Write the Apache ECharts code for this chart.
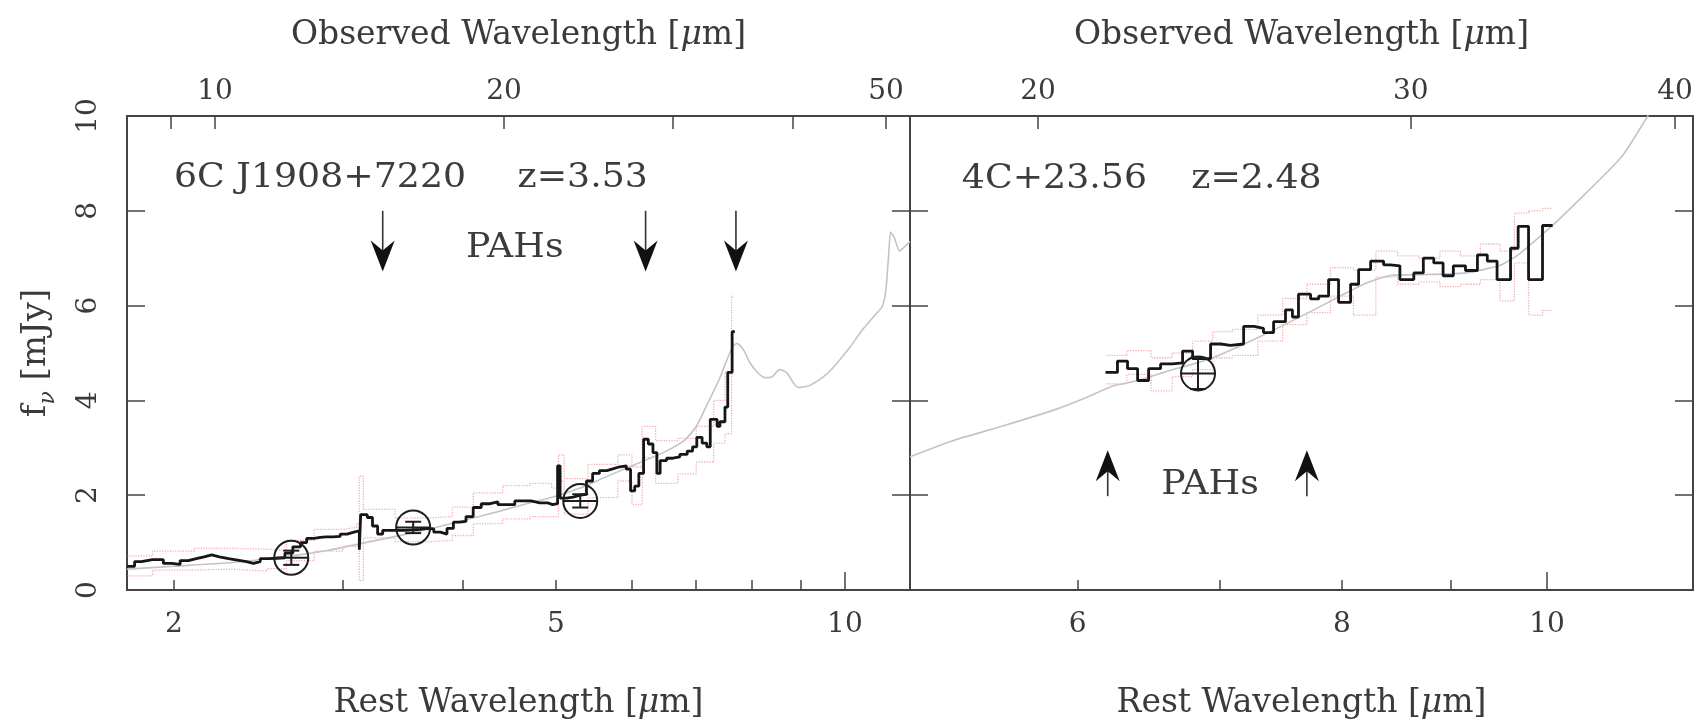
<!DOCTYPE html>
<html><head><meta charset="utf-8">
<script src="https://cdn.jsdelivr.net/npm/echarts@6/dist/echarts.min.js"></script>
<style>html,body{margin:0;padding:0;background:#fff}#c{width:1702px;height:725px}</style>
</head><body><div id="c"></div>
<script>
// ---------------- data ----------------
const zLeft = 3.53, zRight = 2.48;
const restRangeLeft = [1.787, 11.69];
const restRangeRight = [5.0, 11.72];

const leftRestTicks = [2, 3, 4, 5, 6, 7, 8, 9];
const leftRestMajorTicks = [10];
const leftRestLabels = [2, 5, 10];
const leftObsTicks = [9, 10, 20, 30, 40, 50];
const leftObsLabels = [10, 20, 50];
const rightRestTicks = [6, 7, 8, 9];
const rightRestMajorTicks = [10];
const rightRestLabels = [6, 8, 10];
const rightObsTicks = [20, 30, 40];
const rightObsLabels = [20, 30, 40];

// 6C J1908+7220 : IRS spectrum (rest um, mJy)
const leftSpectrum = [[1.787,0.50],[1.82,0.60],[1.85,0.64],[1.90,0.64],[1.95,0.56],[1.99,0.54],[2.03,0.62],[2.07,0.66],[2.11,0.70],[2.15,0.74],[2.19,0.70],[2.23,0.66],[2.28,0.63],[2.33,0.60],[2.38,0.56],[2.42,0.60],[2.46,0.66],[2.51,0.67],[2.56,0.68],[2.61,0.78],[2.66,0.91],[2.71,1.00],[2.75,1.09],[2.80,1.11],[2.84,1.12],[2.88,1.12],[2.93,1.13],[2.98,1.18],[3.03,1.22],[3.08,1.25],[3.12,0.85],[3.13,1.59],[3.18,1.53],[3.22,1.35],[3.26,1.18],[3.30,1.26],[3.35,1.26],[3.41,1.26],[3.48,1.27],[3.55,1.28],[3.61,1.30],[3.67,1.29],[3.73,1.22],[3.79,1.18],[3.85,1.30],[3.91,1.43],[3.97,1.45],[4.03,1.55],[4.10,1.74],[4.18,1.82],[4.27,1.86],[4.35,1.80],[4.45,1.80],[4.53,1.88],[4.62,1.88],[4.71,1.84],[4.81,1.84],[4.90,1.80],[4.96,1.82],[5.02,2.62],[5.05,1.94],[5.13,1.96],[5.21,2.00],[5.30,2.02],[5.38,2.30],[5.46,2.46],[5.55,2.52],[5.65,2.56],[5.74,2.60],[5.83,2.62],[5.92,2.55],[5.98,2.09],[6.04,2.19],[6.10,2.46],[6.17,3.18],[6.24,3.08],[6.31,2.90],[6.37,2.46],[6.42,2.73],[6.52,2.78],[6.62,2.81],[6.73,2.86],[6.85,2.93],[6.94,3.02],[7.01,3.22],[7.10,3.10],[7.18,3.02],[7.24,3.60],[7.36,3.45],[7.41,3.55],[7.50,3.86],[7.55,4.59],[7.63,5.45],[7.68,5.45]];
const leftErrHigh = [[1.79,0.72],[1.9,0.82],[2.1,0.88],[2.3,0.86],[2.5,0.84],[2.62,1.05],[2.8,1.28],[3.0,1.32],[3.1,1.40],[3.12,2.40],[3.15,1.70],[3.4,1.52],[3.7,1.55],[3.9,1.75],[4.1,2.05],[4.4,2.20],[4.7,2.25],[4.95,2.15],[5.03,2.85],[5.1,2.35],[5.4,2.65],[5.8,2.85],[6.0,2.60],[6.15,3.45],[6.35,3.15],[6.7,3.20],[7.0,3.45],[7.3,4.0],[7.5,4.6],[7.62,6.2],[7.66,6.2]];
const leftErrLow = [[1.79,0.30],[1.9,0.42],[2.1,0.44],[2.3,0.40],[2.5,0.45],[2.62,0.62],[2.8,0.82],[3.0,0.92],[3.1,0.95],[3.12,0.20],[3.15,1.10],[3.4,1.02],[3.7,1.05],[3.9,1.15],[4.1,1.40],[4.4,1.50],[4.7,1.55],[4.95,1.55],[5.03,2.30],[5.1,1.60],[5.4,1.95],[5.8,2.30],[6.0,1.80],[6.15,2.80],[6.35,2.25],[6.7,2.45],[7.0,2.70],[7.3,3.10],[7.5,3.30],[7.62,4.8],[7.66,4.8]];
const leftTemplate = [[1.787,0.44],[2.0,0.50],[2.3,0.58],[2.6,0.70],[2.9,0.84],[3.2,1.02],[3.5,1.18],[3.8,1.35],[4.1,1.52],[4.4,1.68],[4.7,1.84],[5.0,1.98],[5.3,2.15],[5.6,2.36],[5.9,2.56],[6.2,2.74],[6.5,2.92],[6.8,3.15],[7.0,3.45],[7.2,3.95],[7.4,4.45],[7.55,4.9],[7.65,5.15],[7.72,5.2],[7.85,5.05],[7.96,4.8],[8.1,4.6],[8.25,4.48],[8.4,4.5],[8.55,4.65],[8.7,4.58],[8.85,4.35],[8.95,4.27],[9.2,4.32],[9.5,4.5],[9.72,4.69],[10.1,5.1],[10.44,5.5],[10.75,5.8],[10.93,5.97],[11.03,6.3],[11.10,7.0],[11.16,7.55],[11.25,7.45],[11.4,7.15],[11.55,7.25],[11.69,7.35]];
const leftPhotometry = [[2.65,0.68,0.15],[3.55,1.32,0.12],[5.30,1.88,0.14]];
const leftPAH = [3.3, 6.2, 7.7];
const leftArrowSpan = [8.0, 6.72];
const leftNotes = [
  {text: '6C J1908+7220', rest: 2.0, flux: 8.68, align: 'left'},
  {text: 'z=3.53', rest: 4.56, flux: 8.68, align: 'left'},
  {text: 'PAHs', rest: 4.53, flux: 7.2, align: 'center'}
];

// 4C+23.56
const rightSpectrum = [[6.185,4.59],[6.266,4.83],[6.335,4.67],[6.405,4.42],[6.482,4.67],[6.567,4.77],[6.653,4.79],[6.726,5.04],[6.80,4.88],[6.934,5.19],[7.01,5.16],[7.086,5.19],[7.188,5.56],[7.27,5.52],[7.345,5.43],[7.426,5.66],[7.523,5.91],[7.58,5.76],[7.63,6.24],[7.731,6.14],[7.80,6.20],[7.884,6.55],[7.970,6.07],[8.075,6.45],[8.146,6.76],[8.253,6.94],[8.370,6.86],[8.43,6.84],[8.52,6.55],[8.65,6.69],[8.74,7.00],[8.84,6.90],[8.93,6.63],[9.03,6.84],[9.15,6.74],[9.27,7.07],[9.37,6.94],[9.47,6.55],[9.61,7.21],[9.69,7.67],[9.80,6.55],[9.95,7.69],[10.06,7.69]];
const rightErrHigh = [[6.19,4.95],[6.33,5.05],[6.5,4.9],[6.65,5.0],[6.8,5.25],[6.95,5.45],[7.1,5.5],[7.3,5.8],[7.5,6.15],[7.7,6.45],[7.9,6.8],[8.1,6.75],[8.3,7.15],[8.5,7.05],[8.7,7.0],[8.9,7.15],[9.1,7.05],[9.3,7.3],[9.5,7.15],[9.65,7.95],[9.8,8.0],[9.95,8.05],[10.05,8.05]];
const rightErrLow = [[6.19,4.35],[6.33,4.55],[6.5,4.2],[6.65,4.5],[6.8,4.65],[6.95,4.9],[7.1,4.95],[7.3,5.25],[7.5,5.6],[7.7,5.85],[7.9,6.2],[8.1,5.8],[8.3,6.6],[8.5,6.45],[8.7,6.5],[8.9,6.4],[9.1,6.45],[9.3,6.55],[9.5,6.1],[9.65,6.9],[9.8,5.8],[9.95,5.9],[10.05,5.9]];
const rightTemplate = [[5.0,2.81],[5.23,3.14],[5.54,3.47],[5.85,3.80],[6.05,4.05],[6.23,4.30],[6.41,4.42],[6.60,4.60],[6.93,4.88],[7.32,5.35],[7.75,5.90],[8.19,6.45],[8.42,6.63],[8.67,6.65],[9.16,6.69],[9.50,6.85],[9.69,7.07],[10.08,7.73],[10.25,8.04],[10.84,9.13],[11.15,9.98],[11.3,10.4]];
const rightPhotometry = [[6.84,4.57,0.33]];
const rightPAH = [6.2, 7.7];
const rightArrowSpan = [1.98, 2.95];
const rightNotes = [
  {text: '4C+23.56', rest: 5.29, flux: 8.66, align: 'left'},
  {text: 'z=2.48', rest: 6.79, flux: 8.66, align: 'left'},
  {text: 'PAHs', rest: 6.93, flux: 2.2, align: 'center'}
];

// ---------------- styles ----------------
const FONT = 'DejaVu Serif';
const TXT = '#3a3a3a';
const FRAME = '#444';

function muRich(size) {
  return {
    t: {fontFamily: FONT, fontSize: size, color: TXT},
    mu: {fontFamily: FONT, fontSize: size, color: TXT, fontStyle: 'italic'}
  };
}

function xAxis(gridIndex, position, range, ticks, labels, name, tickLen) {
  const top = position === 'top';
  return {
    type: 'log', gridIndex, position, min: range[0], max: range[1],
    name: '{t|' + name + ' [}{mu|μ}{t|m]}',
    nameLocation: 'middle', nameGap: top ? 64 : 97,
    nameTextStyle: {rich: muRich(33)},
    axisLine: {show: true, onZero: false, lineStyle: {color: FRAME, width: 2}},
    axisTick: {show: true, inside: true, length: tickLen, customValues: ticks, lineStyle: {color: FRAME, width: 1.5}},
    axisLabel: {show: true, customValues: labels, margin: top ? 10 : 21, formatter: v => String(Math.round(v)),
      fontFamily: FONT, fontSize: 28, color: TXT},
    splitLine: {show: false}, minorTick: {show: false}, minorSplitLine: {show: false}
  };
}
// extra axis only carrying the longer decade tick
function majorTickAxis(gridIndex, position, range, ticks) {
  return {
    type: 'log', gridIndex, position, min: range[0], max: range[1],
    axisLine: {show: false, onZero: false},
    axisTick: {show: true, inside: true, length: 18, customValues: ticks, lineStyle: {color: FRAME, width: 1.5}},
    axisLabel: {show: false}, splitLine: {show: false}
  };
}
function yAxis(gridIndex, position, showLabel) {
  const ax = {
    type: 'value', gridIndex, position, min: 0, max: 10, interval: 2,
    axisLine: {show: true, onZero: false, lineStyle: {color: FRAME, width: 2}},
    axisTick: {show: true, inside: true, length: 18, lineStyle: {color: FRAME, width: 1.5}},
    axisLabel: {show: showLabel, rotate: 90, margin: 24, fontFamily: FONT, fontSize: 28, color: TXT},
    splitLine: {show: false}
  };
  if (showLabel) {
    ax.name = '{f|f}{nu|ν}{t| [mJy]}';
    ax.nameLocation = 'middle';
    ax.nameGap = 68;
    ax.nameRotate = 90;
    ax.nameTextStyle = {rich: {
      f: {fontFamily: FONT, fontSize: 34, color: TXT, lineHeight: 46, verticalAlign: 'middle'},
      nu: {fontFamily: FONT, fontSize: 22, color: TXT, fontStyle: 'italic', lineHeight: 46, verticalAlign: 'bottom'},
      t: {fontFamily: FONT, fontSize: 34, color: TXT, lineHeight: 46, verticalAlign: 'middle'}
    }};
  }
  return ax;
}

function lineSeries(xi, yi, data, style, extra) {
  return Object.assign({type: 'line', xAxisIndex: xi, yAxisIndex: yi, data, symbol: 'none',
    clip: true, silent: true, animation: false, lineStyle: style}, extra || {});
}

function photSeries(xi, yi, data) {
  return {
    type: 'custom', xAxisIndex: xi, yAxisIndex: yi, data, z: 5, animation: false, silent: true,
    encode: {x: 0, y: 1},
    renderItem(params, api) {
      const x = api.value(0), y = api.value(1), e = api.value(2);
      const c = api.coord([x, y]);
      const hi = api.coord([x, y + e]);
      const lo = api.coord([x, y - e]);
      const r = 17, cap = 8;
      const st = {stroke: '#1e1e1e', lineWidth: 2, fill: null};
      return {type: 'group', children: [
        {type: 'circle', shape: {cx: c[0], cy: c[1], r}, style: st},
        {type: 'line', shape: {x1: c[0], y1: hi[1], x2: c[0], y2: lo[1]}, style: st},
        {type: 'line', shape: {x1: c[0] - cap, y1: hi[1], x2: c[0] + cap, y2: hi[1]}, style: st},
        {type: 'line', shape: {x1: c[0] - cap, y1: lo[1], x2: c[0] + cap, y2: lo[1]}, style: st},
        {type: 'line', shape: {x1: c[0] - r, y1: c[1], x2: c[0] + r, y2: c[1]}, style: st}
      ]};
    }
  };
}

function arrowSeries(xi, yi, waves, span) {
  return {
    type: 'custom', xAxisIndex: xi, yAxisIndex: yi, z: 6, animation: false, silent: true,
    data: waves.map(w => [w, span[0], span[1]]),
    encode: {x: 0, y: [1, 2]},
    renderItem(params, api) {
      const p0 = api.coord([api.value(0), api.value(1)]);
      const p1 = api.coord([api.value(0), api.value(2)]);
      const d = p1[1] > p0[1] ? 1 : -1;
      const hl = 31, hw = 12, notch = 10;
      return {type: 'group', children: [
        {type: 'line', shape: {x1: p0[0], y1: p0[1], x2: p1[0], y2: p1[1] - d * 18},
          style: {stroke: '#333', lineWidth: 1.6}},
        {type: 'polygon', shape: {points: [[p1[0], p1[1]], [p1[0] - hw, p1[1] - d * hl],
          [p1[0], p1[1] - d * (hl - notch)], [p1[0] + hw, p1[1] - d * hl]]},
          style: {fill: '#111'}}
      ]};
    }
  };
}

function noteSeries(xi, yi, notes) {
  return {
    type: 'custom', xAxisIndex: xi, yAxisIndex: yi, z: 7, animation: false, silent: true,
    data: notes.map(n => [n.rest, n.flux]),
    encode: {x: 0, y: 1},
    renderItem(params, api) {
      const n = notes[params.dataIndex];
      const p = api.coord([api.value(0), api.value(1)]);
      return {type: 'text', x: p[0], y: p[1], scaleX: 1.1, style: {text: n.text, fontFamily: FONT, fontSize: 33,
        fill: '#3c3c3c', align: n.align, verticalAlign: 'middle'}};
    }
  };
}

const chart = echarts.init(document.getElementById('c'), null, {renderer: 'canvas'});
const tmpl = {color: '#c4c4c4', width: 1.6};
const err = {color: '#f4b0b0', width: 1.3, type: 'dotted'};
const spec = {color: '#161616', width: 2.8};

chart.setOption({
  backgroundColor: '#fff',
  animation: false,
  grid: [
    {left: 127, top: 116, width: 783, height: 483},
    {left: 910, top: 116, width: 783, height: 483}
  ],
  xAxis: [
    xAxis(0, 'bottom', restRangeLeft, leftRestTicks, leftRestLabels, 'Rest Wavelength', 10),
    xAxis(0, 'top', restRangeLeft.map(v => v * (1 + zLeft)), leftObsTicks, leftObsLabels, 'Observed Wavelength', 13),
    xAxis(1, 'bottom', restRangeRight, rightRestTicks, rightRestLabels, 'Rest Wavelength', 10),
    xAxis(1, 'top', restRangeRight.map(v => v * (1 + zRight)), rightObsTicks, rightObsLabels, 'Observed Wavelength', 13),
    majorTickAxis(0, 'bottom', restRangeLeft, leftRestMajorTicks),
    majorTickAxis(1, 'bottom', restRangeRight, rightRestMajorTicks)
  ],
  yAxis: [
    yAxis(0, 'left', true),
    yAxis(0, 'right', false),
    yAxis(1, 'left', false),
    yAxis(1, 'right', false)
  ],
  series: [
    lineSeries(0, 0, leftTemplate, tmpl, {smooth: 0.2, z: 1}),
    lineSeries(0, 0, leftErrHigh, err, {step: 'end', z: 2}),
    lineSeries(0, 0, leftErrLow, err, {step: 'end', z: 2}),
    lineSeries(0, 0, leftSpectrum, spec, {step: 'end', z: 3}),
    photSeries(0, 0, leftPhotometry),
    arrowSeries(0, 0, leftPAH, leftArrowSpan),
    noteSeries(0, 0, leftNotes),

    lineSeries(2, 2, rightTemplate, tmpl, {smooth: 0.2, z: 1}),
    lineSeries(2, 2, rightErrHigh, err, {step: 'end', z: 2}),
    lineSeries(2, 2, rightErrLow, err, {step: 'end', z: 2}),
    lineSeries(2, 2, rightSpectrum, spec, {step: 'end', z: 3}),
    photSeries(2, 2, rightPhotometry),
    arrowSeries(2, 2, rightPAH, rightArrowSpan),
    noteSeries(2, 2, rightNotes)
  ]
});
</script></body></html>
